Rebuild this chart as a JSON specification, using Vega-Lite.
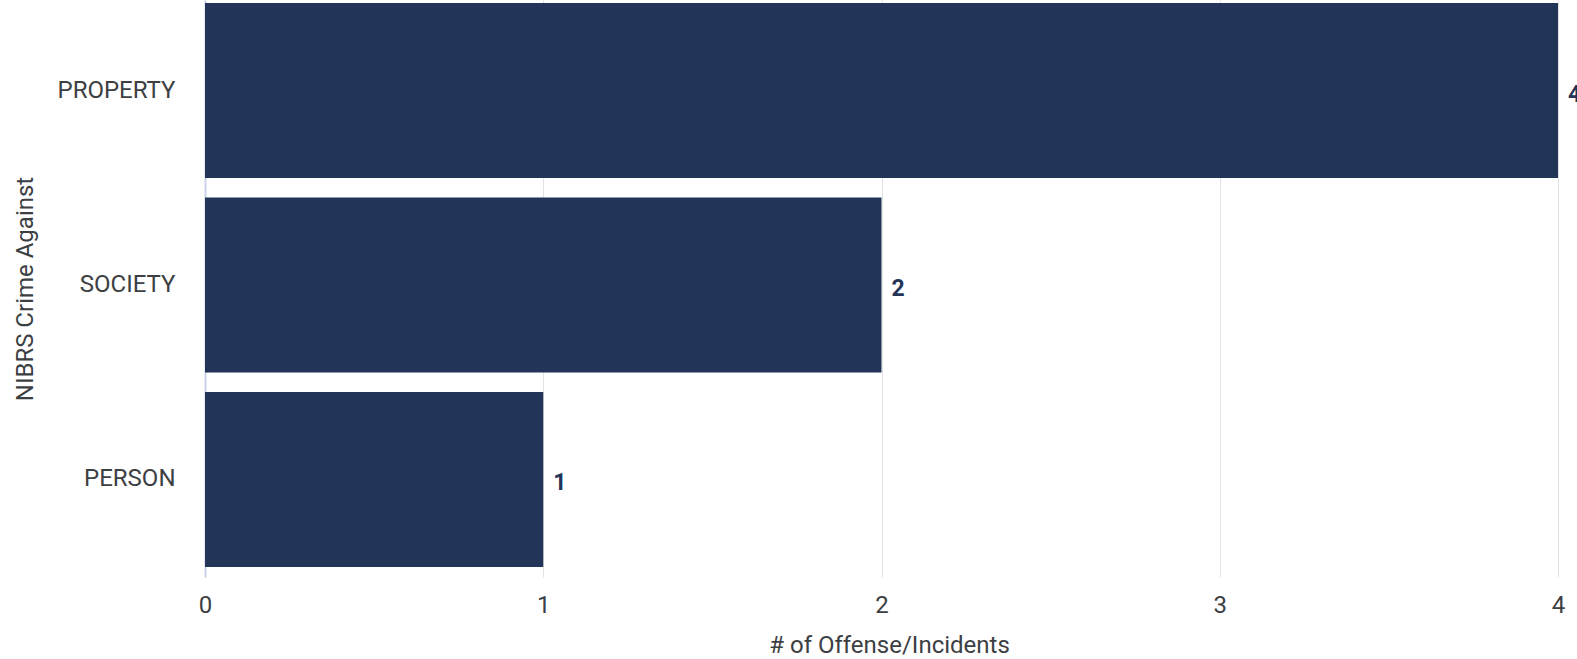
{
  "$schema": "https://vega.github.io/schema/vega-lite/v6.json",
  "autosize": "none",
  "padding": {"left": 205, "top": 0, "right": 19, "bottom": 82},
  "width": 1353,
  "height": 577,
  "background": "white",
  "config": {
    "view": {"stroke": null},
    "font": "Roboto"
  },
  "data": {
    "values": [
      {"category": "PROPERTY", "count": 4},
      {"category": "SOCIETY", "count": 2},
      {"category": "PERSON", "count": 1}
    ]
  },
  "encoding": {
    "y": {
      "field": "category",
      "type": "nominal",
      "sort": ["PROPERTY", "SOCIETY", "PERSON"],
      "scale": {"paddingInner": 0.1, "paddingOuter": 0.0334, "align": 0.23},
      "axis": {
        "title": "NIBRS Crime Against",
        "titleFont": "Roboto",
        "titleFontSize": 24,
        "titleFontWeight": "normal",
        "titleColor": "#3c4043",
        "titlePadding": 20,
        "labelFont": "Roboto",
        "labelFontSize": 24,
        "labelColor": "#3c4043",
        "labelPadding": 30,
        "ticks": false,
        "domain": true,
        "domainColor": "#c9d3e8",
        "domainWidth": 2,
        "grid": false
      }
    },
    "x": {
      "field": "count",
      "type": "quantitative",
      "scale": {"domain": [0, 4], "nice": false},
      "axis": {
        "title": "# of Offense/Incidents",
        "titleFont": "Roboto",
        "titleFontSize": 24,
        "titleFontWeight": "normal",
        "titleColor": "#3c4043",
        "titlePadding": 16,
        "titleX": 684,
        "labelFont": "Roboto",
        "labelFontSize": 24,
        "labelColor": "#3c4043",
        "labelPadding": 16,
        "labelFlush": false,
        "values": [0, 1, 2, 3, 4],
        "format": "d",
        "ticks": false,
        "domain": false,
        "grid": true,
        "gridColor": "#e2e2e2",
        "gridWidth": 1
      }
    }
  },
  "layer": [
    {"mark": {"type": "bar", "color": "#223457"}},
    {
      "mark": {"type": "text", "align": "left", "baseline": "middle", "dx": 10, "dy": 4, "fontWeight": "bold", "fontSize": 23, "font": "Roboto", "color": "#223457"},
      "encoding": {"text": {"field": "count", "type": "quantitative"}}
    }
  ]
}
